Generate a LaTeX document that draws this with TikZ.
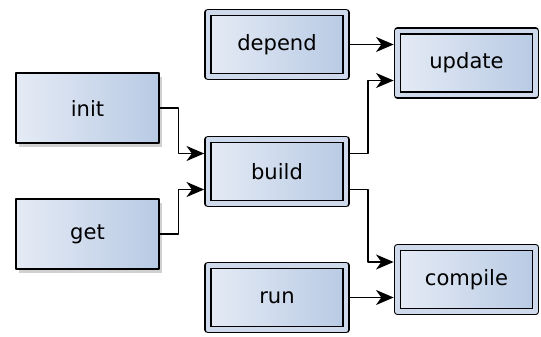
\documentclass[tikz,border=0pt]{standalone}
\usepackage{fontspec}
\setmainfont{DejaVu Sans}
\usepackage{tikz}
\usetikzlibrary{arrows.meta}
\usetikzlibrary{shadows}
\usetikzlibrary{calc}

\definecolor{boxleft}{RGB}{229,235,245}
\definecolor{boxright}{RGB}{184,202,228}

\tikzset{
  task/.style={rectangle, draw=black, line width=1pt, left color=boxleft, right color=boxright,
    minimum width=2.86cm, minimum height=1.40cm, font=\fontsize{12}{14}\selectfont,
    drop shadow={shadow xshift=0.05cm, shadow yshift=-0.07cm, opacity=0.3, fill=black!60}},
  target/.style={task, line width=0.8pt, double=boxleft!50!boxright, double distance=2.8pt,
    outer sep=2.2pt, minimum width=2.76cm, minimum height=1.28cm},
  link/.style={->, line width=1pt}
}

\begin{document}
\begin{tikzpicture}[line cap=round,line join=round,>={Stealth[length=10pt,width=8.5pt,inset=3pt]},x=1.0cm,y=1.0cm]
% Draw region settings
\useasboundingbox (0,0) rectangle (10.82,6.72);
% Left column
\node[task] (init) at (1.75,4.56) {init};
\node[task] (get) at (1.75,2.04) {get};
% Middle column
\node[target] (depend) at (5.54,5.83) {depend};
\node[target] (build) at (5.54,3.29) {build};
\node[target] (run) at (5.54,0.77) {run};
% Right column
\node[target] (update) at (9.33,5.46) {update};
\node[target] (compile) at (9.33,1.13) {compile};
% Links
\draw[link] (init.east) -- ++(0.37,0) |- ($(build.west)+(0,0.36)$);
\draw[link] (get.east) -- ++(0.37,0) |- ($(build.west)+(0,-0.36)$);
\draw[link] (depend.east) -- (depend.east -| update.west);
\draw[link] ($(build.east)+(0,0.36)$) -- ++(0.36,0) |- ($(update.west)+(0,-0.35)$);
\draw[link] ($(build.east)+(0,-0.36)$) -- ++(0.36,0) |- ($(compile.west)+(0,0.35)$);
\draw[link] (run.east) -- (run.east -| compile.west);
\end{tikzpicture}
\end{document}
